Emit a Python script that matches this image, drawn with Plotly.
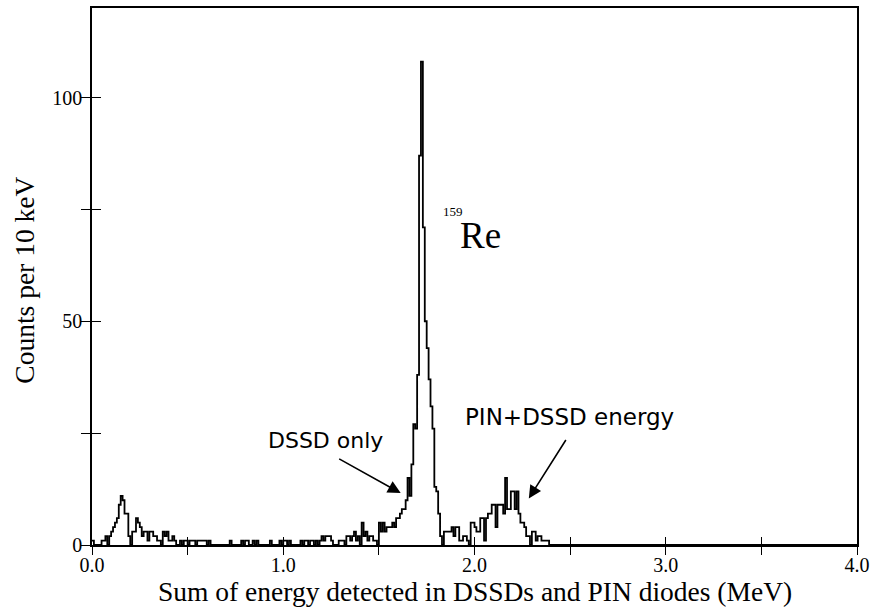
import plotly.graph_objects as go

# Counts per 10 keV bin (bin i covers [0.01*i, 0.01*(i+1)] MeV)
counts_a = [  # bins 0-99
    1, 0, 0, 0, 0, 1, 1, 2, 0, 2,
    3, 4, 5, 6, 9, 11, 10, 7, 7, 2,
    0, 3, 3, 6, 5, 4, 2, 3, 3, 1,
    3, 3, 2, 2, 1, 1, 0, 3, 2, 3,
    1, 1, 2, 1, 0, 0, 1, 0, 1, 1,
    0, 1, 1, 1, 0, 1, 1, 1, 1, 1,
    0, 1, 0, 0, 0, 0, 0, 0, 0, 0,
    0, 0, 1, 0, 0, 0, 0, 0, 1, 0,
    1, 1, 0, 0, 1, 0, 1, 0, 0, 0,
    0, 0, 0, 1, 0, 0, 0, 0, 1, 0,
]
counts_b = [  # bins 100-199
    1, 1, 0, 1, 0, 0, 0, 0, 0, 1,
    0, 1, 1, 0, 1, 1, 0, 1, 0, 1,
    2, 1, 2, 2, 2, 1, 0, 0, 0, 1,
    1, 1, 0, 2, 2, 1, 2, 3, 1, 2,
    0, 5, 2, 3, 1, 2, 2, 1, 1, 0,
    5, 3, 5, 3, 4, 4, 4, 5, 4, 6,
    6, 7, 8, 8, 10, 15, 11, 18, 27, 26,
    38, 87, 108, 71, 50, 44, 37, 31, 26, 13,
    12, 7, 2, 0, 3, 3, 3, 3, 4, 2,
    4, 4, 1, 1, 2, 2, 1, 0, 5, 5,
]
counts_c = [  # bins 200-299
    4, 3, 3, 6, 6, 1, 6, 7, 7, 9,
    9, 4, 9, 9, 9, 7, 15, 8, 8, 12,
    12, 8, 12, 7, 5, 5, 4, 2, 2, 0,
    3, 3, 1, 2, 2, 1, 1, 1, 1, 0,
    0, 0, 0, 0, 0, 0, 0, 0, 0, 0,
    0, 0, 0, 0, 0, 0, 0, 0, 0, 0,
    0, 0, 0, 0, 0, 0, 0, 0, 0, 0,
    0, 0, 0, 0, 0, 0, 0, 0, 0, 0,
    0, 0, 0, 0, 0, 0, 0, 0, 0, 0,
    0, 0, 0, 0, 0, 0, 0, 0, 0, 0,
]
counts_d = [  # bins 300-399
    0, 0, 0, 0, 0, 0, 0, 0, 0, 0,
    0, 0, 0, 0, 0, 0, 0, 0, 0, 0,
    0, 0, 0, 0, 0, 0, 0, 0, 0, 0,
    0, 0, 0, 0, 0, 0, 0, 0, 0, 0,
    0, 0, 0, 0, 0, 0, 0, 0, 0, 0,
    0, 0, 0, 0, 0, 0, 0, 0, 0, 0,
    0, 0, 0, 0, 0, 0, 0, 0, 0, 0,
    0, 0, 0, 0, 0, 0, 0, 0, 0, 0,
    0, 0, 0, 0, 0, 0, 0, 0, 0, 0,
    0, 0, 0, 0, 0, 0, 0, 0, 0, 0,
]
bin_width = 0.01  # MeV

x_tickvals = [0.0, 0.5, 1.0, 1.5, 2.0, 2.5, 3.0, 3.5, 4.0]
x_ticktext = ["0.0", "", "1.0", "", "2.0", "", "3.0", "", "4.0"]
y_tickvals = [0, 25, 50, 75, 100]
y_ticktext = ["0", "", "50", "", "100"]

counts = counts_a + counts_b + counts_c + counts_d
edges = [i * bin_width for i in range(len(counts) + 1)]
ys = counts + [counts[-1]]

serif = "Liberation Serif"
sans = "DejaVu Sans"

fig = go.Figure()
fig.add_trace(go.Scatter(
    x=edges, y=ys, mode="lines", line=dict(shape="hv", color="black", width=1.8),
    showlegend=False, hoverinfo="skip"))
fig.add_trace(go.Scatter(x=[None], y=[None], xaxis="x2", yaxis="y2",
                         showlegend=False, hoverinfo="skip"))

axis_common = dict(showgrid=False, zeroline=False, linecolor="black", linewidth=1.5,
                   tickcolor="black", tickwidth=1.2)

fig.update_layout(
    width=876, height=610,
    margin=dict(l=92, r=11, t=6, b=65),
    paper_bgcolor="white", plot_bgcolor="white",
    xaxis=dict(range=[0, 4], tickmode="array", tickvals=x_tickvals, ticktext=x_ticktext,
               ticks="outside", ticklen=8, mirror=True, showline=True,
               ticklabelstandoff=-7, ticklabeloverflow="allow",
               tickfont=dict(family=serif, size=20, color="black"),
               **axis_common),
    yaxis=dict(range=[0, 120], tickmode="array", tickvals=y_tickvals, ticktext=y_ticktext,
               ticks="outside", ticklen=9, mirror=True, showline=True,
               ticklabelstandoff=-5,
               tickfont=dict(family=serif, size=20, color="black"),
               **axis_common),
    xaxis2=dict(range=[0, 4], overlaying="x", anchor="y2", side="bottom",
                tickmode="array", tickvals=x_tickvals, ticks="inside", ticklen=8,
                showticklabels=False, showline=False, showgrid=False, zeroline=False,
                tickcolor="black", tickwidth=1.2),
    yaxis2=dict(range=[0, 120], overlaying="y", anchor="x2", side="left",
                tickmode="array", tickvals=y_tickvals, ticks="inside", ticklen=9,
                showticklabels=False, showline=False, showgrid=False, zeroline=False,
                tickcolor="black", tickwidth=1.2),
)

# Axis titles
fig.add_annotation(x=0.5, y=-0.086, xref="paper", yref="paper", yanchor="middle",
                   text="Sum of energy detected in DSSDs and PIN diodes (MeV)", showarrow=False,
                   font=dict(family=serif, size=27.5, color="black"))
fig.add_annotation(x=-0.088, y=0.4935, xref="paper", yref="paper", xanchor="center",
                   yanchor="middle", textangle=-90,
                   text="Counts per 10 keV", showarrow=False,
                   font=dict(family=serif, size=27.5, color="black"))

# Labels
fig.add_annotation(x=1.221, y=23.4, xref="x", yref="y", text="DSSD only", showarrow=False,
                   font=dict(family=sans, size=22, color="black"))
fig.add_annotation(x=2.499, y=28.6, xref="x", yref="y", text="PIN+DSSD energy", showarrow=False,
                   font=dict(family=sans, size=23, color="black"))
fig.add_annotation(x=1.915, y=69.2, xref="x", yref="y", xanchor="left", text="Re",
                   showarrow=False, font=dict(family=serif, size=37, color="black"))
fig.add_annotation(x=1.95, y=74.5, xref="x", yref="y", xanchor="right", text="159",
                   showarrow=False, font=dict(family=serif, size=13, color="black"))

# Arrows
fig.add_annotation(x=1.614, y=11.6, xref="x", yref="y", ax=-63, ay=-35, text="",
                   showarrow=True, arrowhead=2, arrowsize=1.6, arrowwidth=1.6, arrowcolor="black")
fig.add_annotation(x=2.284, y=10.4, xref="x", yref="y", ax=38, ay=-60, text="",
                   showarrow=True, arrowhead=2, arrowsize=1.6, arrowwidth=1.6, arrowcolor="black")

fig.write_html("out.html")
